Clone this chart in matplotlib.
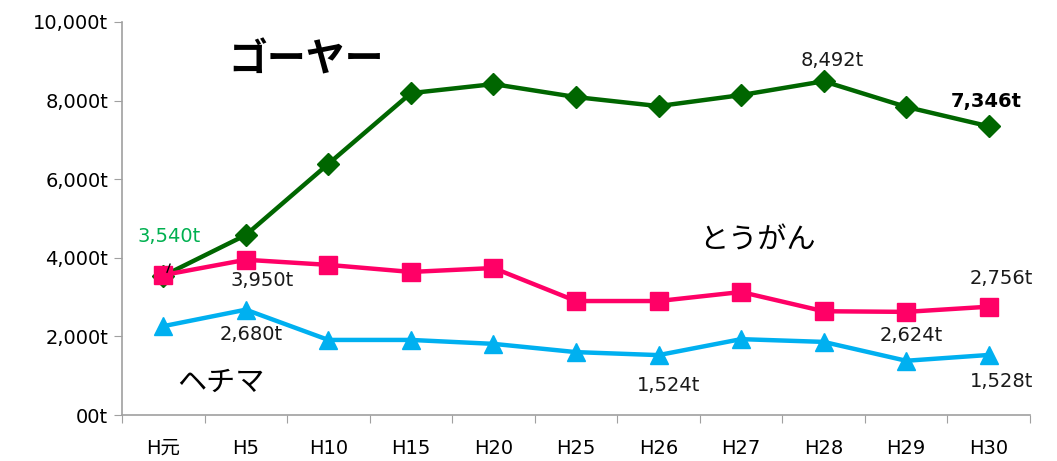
import matplotlib
matplotlib.use("Agg")
import matplotlib.pyplot as plt
from matplotlib.ticker import FuncFormatter

plt.rcParams['font.family'] = ['DejaVu Sans', 'Noto Sans CJK JP']

years = ["H元", "H5", "H10", "H15", "H20", "H25", "H26", "H27", "H28", "H29", "H30"]
goya = [3540, 4580, 6390, 8190, 8420, 8090, 7860, 8140, 8492, 7840, 7346]
togan = [3560, 3950, 3820, 3640, 3740, 2900, 2900, 3130, 2640, 2624, 2756]
hechima = [2260, 2680, 1910, 1910, 1810, 1600, 1524, 1930, 1860, 1380, 1528]

fig = plt.figure(figsize=(10.57, 4.61), dpi=100)
ax = fig.add_axes([122/1057, 1 - 415/461, (1030-122)/1057, (415-22)/461])

x = list(range(len(years)))
ax.plot(x, hechima, color="#00b0f0", lw=3.2, marker="^", ms=13, zorder=3)
ax.plot(x, togan, color="#ff0066", lw=3.2, marker="s", ms=13, zorder=4)
ax.plot(x, goya, color="#006600", lw=3.2, marker="D", ms=11, zorder=2)

ax.set_xlim(-0.5, 10.5)
ax.set_ylim(0, 10000)
ax.set_yticks(range(0, 10001, 2000))
ax.yaxis.set_major_formatter(FuncFormatter(lambda v, p: "00t" if v == 0 else f"{int(v):,}t"))
ax.set_xticks([i + 0.5 for i in range(-1, len(years))])
ax.set_xticklabels([])
ax.set_xticks(x, minor=True)
ax.set_xticklabels(years, minor=True, fontsize=14, family=['DejaVu Sans', 'Noto Sans CJK JP'])
ax.tick_params(axis='x', which='minor', length=0, pad=17)
ax.tick_params(axis='x', which='major', length=6, color="#a0a0a0", direction='out')
ax.tick_params(axis='y', length=6, color="#a0a0a0", labelsize=14, pad=4)
for s in ("top", "right"):
    ax.spines[s].set_visible(False)
for s in ("left", "bottom"):
    ax.spines[s].set_color("#a0a0a0")
    ax.spines[s].set_linewidth(1.2)

def lab(i, series, text, dx, dy, color="#1a1a1a", weight="normal"):
    ax.annotate(text, (i, series[i]), xytext=(dx, dy), textcoords="offset points",
                ha="center", va="center", fontsize=14, color=color, fontweight=weight)

lab(0, goya, "3,540t", 4, 28, color="#00b050")
# short leader from the first ゴーヤー label to its point
ax.annotate("", (0.033, goya[0] + 20), xytext=(0.094, goya[0] + 370),
            arrowprops=dict(arrowstyle="-", color="black", lw=1), zorder=6)
lab(1, togan, "3,950t", 12, -15)
lab(1, hechima, "2,680t", 4, -18)
lab(8, goya, "8,492t", 6, 15)
lab(10, goya, "7,346t", -2, 18, color="black", weight="bold")
lab(10, togan, "2,756t", 9, 20)
lab(9, togan, "2,624t", 4, -17)
lab(6, hechima, "1,524t", 7, -22)
lab(10, hechima, "1,528t", 9, -19)

cjk = ['Noto Sans CJK JP']
ax.text(1.73, 9030, "ゴーヤー", fontsize=28, fontweight="bold", family=cjk, ha="center", va="center")
ax.text(7.2, 4450, "とうがん", fontsize=21, family=cjk, ha="center", va="center")
ax.text(0.7, 810, "ヘチマ", fontsize=21, family=cjk, ha="center", va="center")

fig.savefig("out.png", dpi=100)
